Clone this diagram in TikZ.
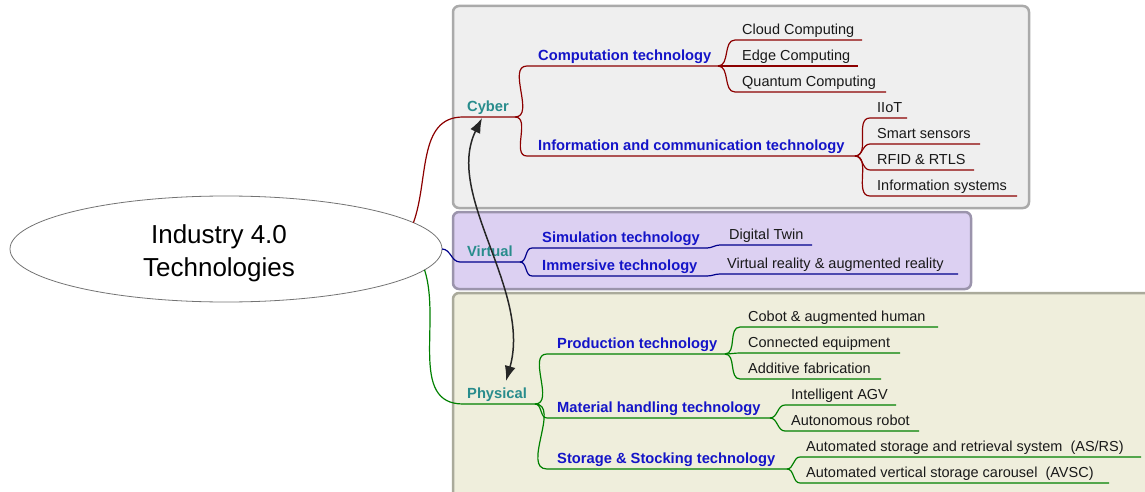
\documentclass[tikz,border=0pt]{standalone}
\usepackage{fontspec}
\setmainfont{Liberation Sans}
\usetikzlibrary{shapes.geometric,arrows.meta}
\definecolor{cyberline}{RGB}{140,0,0}
\definecolor{virtline}{RGB}{0,0,140}
\definecolor{physline}{RGB}{0,128,0}
\definecolor{tealtxt}{RGB}{40,140,140}
\definecolor{bluetxt}{RGB}{20,20,200}
\definecolor{cyberfill}{RGB}{239,239,239}
\definecolor{cyberdraw}{RGB}{170,170,170}
\definecolor{virtfill}{RGB}{220,208,242}
\definecolor{virtdraw}{RGB}{155,148,172}
\definecolor{physfill}{RGB}{239,238,220}
\definecolor{physdraw}{RGB}{170,170,155}
\newcommand\mmitem[8]{%
  \coordinate (#2-s) at (#3,#4);
  \coordinate (#2-e) at (#5,#4);
  \node[#7] (#2) at (#6,#4-5.5) {#8};
  \draw[lc] (#1-e) to[out=0,in=180] (#2-s) -- (#2-e);
}
\begin{document}
\begin{tikzpicture}[x=1pt,y=-1pt,
  lbl/.style={anchor=base west,inner sep=0pt,font=\fontsize{14.5}{17}\selectfont,text=black!90},
  cat/.style={lbl,font=\fontsize{14.7}{17}\selectfont\bfseries,text=tealtxt},
  sub/.style={lbl,font=\fontsize{14.7}{17}\selectfont\bfseries,text=bluetxt},
  leaf/.style={lbl},
  box/.style={rounded corners=6pt,line width=2.5pt},
  lc/.style={line width=1.2pt}]
\clip (0,0) rectangle (1145,492);
% background boxes
\draw[box,draw=cyberdraw,fill=cyberfill] (453,6) rectangle (1029,208);
\draw[box,draw=virtdraw,fill=virtfill] (453,212) rectangle (971,289);
\draw[box,draw=physdraw,fill=physfill] (453,293) rectangle (1180,530);
% root
\node[ellipse,draw=black!55,line width=0.8pt,minimum width=432pt,minimum height=106pt,inner sep=0pt,outer sep=0pt] (root) at (226,249) {};
\node[align=center,inner sep=0pt,font=\fontsize{26}{33}\selectfont] (rootlbl) at (219,253) {Industry 4.0\\Technologies};
% Cyber
\begin{scope}[lc/.style={draw=cyberline,line width=1.2pt}]
  \coordinate (cy-s) at (463,117);
  \coordinate (cy-e) at (515,117);
  \node[cat] (cy) at (467,111.5) {Cyber};
  \draw[lc] (root.8) to[out=70,in=180] (cy-s) -- (cy-e);
  \mmitem{cy}{comp}{527}{66}{718}{538}{sub}{Computation technology}
  \mmitem{comp}{cloud}{735}{40}{862}{742}{leaf}{Cloud Computing}
  \mmitem{comp}{edge}{735}{66}{858}{742}{leaf}{Edge Computing}
  \mmitem{comp}{quant}{735}{92}{886}{742}{leaf}{Quantum Computing}
  \mmitem{cy}{ict}{527}{156}{855}{538}{sub}{Information and communication technology}
  \mmitem{ict}{iiot}{870}{118}{907}{877}{leaf}{IIoT}
  \mmitem{ict}{smart}{870}{144}{980}{877}{leaf}{Smart sensors}
  \mmitem{ict}{rfid}{870}{170}{974}{877}{leaf}{RFID \& RTLS}
  \mmitem{ict}{infsys}{870}{196}{1017}{877}{leaf}{Information systems}
\end{scope}
% Virtual
\begin{scope}[lc/.style={draw=virtline,line width=1.2pt}]
  \coordinate (vi-s) at (460,262);
  \coordinate (vi-e) at (520,262);
  \node[cat] (vi) at (467,256.5) {Virtual};
  \draw[lc] (root.east) to[out=0,in=180] (vi-s) -- (vi-e);
  \mmitem{vi}{sim}{532}{248}{707}{542}{sub}{Simulation technology}
  \mmitem{sim}{twin}{720}{245}{812}{729}{leaf}{Digital Twin}
  \mmitem{vi}{imm}{532}{276}{707}{542}{sub}{Immersive technology}
  \mmitem{imm}{vr}{720}{274}{958}{727}{leaf}{Virtual reality \& augmented reality}
\end{scope}
% Physical
\begin{scope}[lc/.style={draw=physline,line width=1.2pt}]
  \coordinate (ph-s) at (463,404);
  \coordinate (ph-e) at (535,404);
  \node[cat] (ph) at (467,398.5) {Physical};
  \draw[lc] (root.-6) to[out=-72,in=180] (ph-s) -- (ph-e);
  \mmitem{ph}{prod}{547}{354}{725}{557}{sub}{Production technology}
  \mmitem{prod}{cobot}{740}{327}{938}{748}{leaf}{Cobot \& augmented human}
  \mmitem{prod}{conn}{740}{353}{900}{748}{leaf}{Connected equipment}
  \mmitem{prod}{addi}{740}{379}{881}{748}{leaf}{Additive fabrication}
  \mmitem{ph}{mat}{547}{418}{770}{557}{sub}{Material handling technology}
  \mmitem{mat}{agv}{785}{405}{896}{791}{leaf}{Intelligent AGV}
  \mmitem{mat}{auto}{785}{431}{919}{791}{leaf}{Autonomous robot}
  \mmitem{ph}{stor}{547}{469}{787}{557}{sub}{Storage \& Stocking technology}
  \mmitem{stor}{asrs}{800}{457}{1141}{806}{leaf}{Automated storage and retrieval system\ \ (AS/RS)}
  \mmitem{stor}{avsc}{800}{483}{1109}{806}{leaf}{Automated vertical storage carousel\ \ (AVSC)}
\end{scope}
% cyber <-> physical arrow
\coordinate (arrC) at (482,118);
\coordinate (arrP) at (506,381);
\draw[black!85,line width=1.5pt,{Latex[length=15pt,width=11pt]}-{Latex[length=15pt,width=11pt]}]
  (arrP) .. controls (532,290) and (444,195) .. (arrC);
\end{tikzpicture}
\end{document}
